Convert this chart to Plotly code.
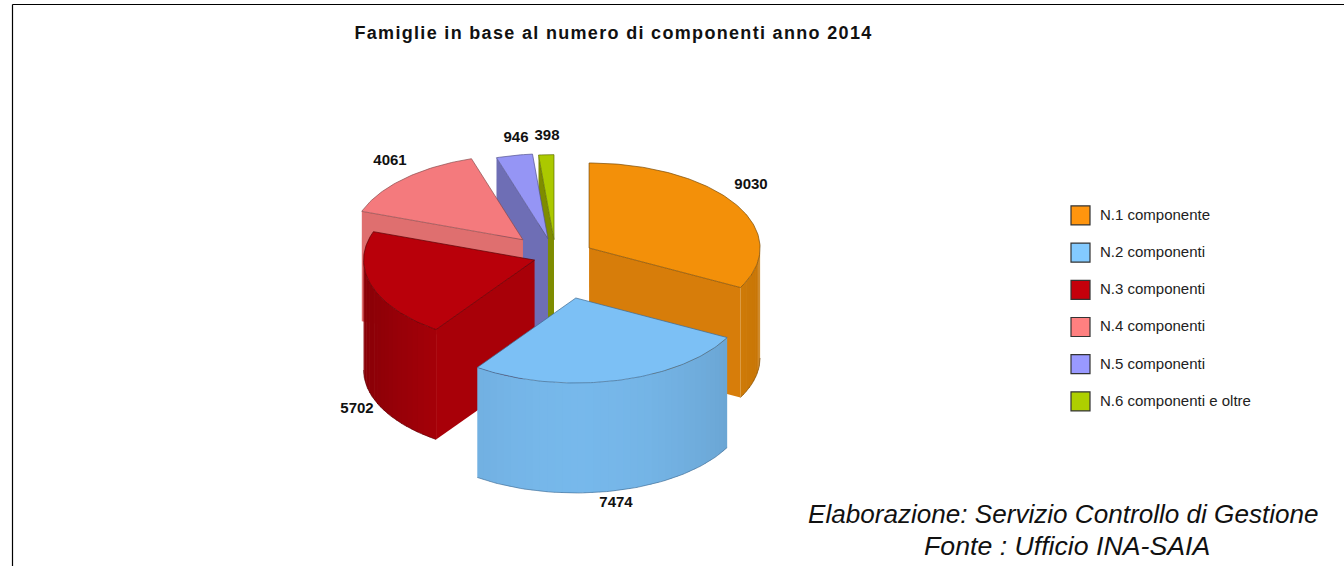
import math
import plotly.graph_objects as go

# ---- data ----
categories = ["N.1 componente", "N.2 componenti", "N.3 componenti",
              "N.4 componenti", "N.5 componenti", "N.6 componenti e oltre"]
values = [9030, 7474, 5702, 4061, 946, 398]
title_text = "Famiglie in base al numero di componenti anno 2014"
footer_lines = ["Elaborazione: Servizio Controllo di Gestione", "Fonte : Ufficio INA-SAIA"]

# ---- styling ----
pull_x = [0.2165, 0.46, 0.14, 0.29, 0.28, 0.44]
pull_y = [0.2165, 0.49, 0.10, 0.29, 0.225, 0.21]
wall_dark = [0.14, 0.12, 0.22, 0.2, 0.2, 0.2]
top_colors = ["#F39009", "#7CC0F5", "#B9000A", "#F47A7D", "#9595F5", "#ABC900"]
radial_colors = ["#D77D0A", "#72B0E4", "#A80008", "#DF6F6F", "#6E6EB5", "#7E8C00"]
swatch_colors = ["#FF950E", "#83CAFF", "#C5000B", "#FF8080", "#9999FF", "#AECF00"]
edge_colors = ["#7A4A05", "#3F6A90", "#5A0005", "#8A4A4C", "#55558F", "#5C6B00"]
CX, CY, RX, RY, DEPTH = 557.4, 257.5, 171, 85, 110
W, H = 1344, 566
FONT = "Liberation Sans"


def pt(ax, ay, deg):
    a = math.radians(deg)
    return ax + RX * math.sin(a), ay - RY * math.cos(a)


def shade(hexcol, f):
    r, g, b = (int(hexcol[i:i + 2], 16) for i in (1, 3, 5))
    return "#%02X%02X%02X" % (int(r * f), int(g * f), int(b * f))


def poly(xs, ys, fill, line=None, width=0.7):
    return go.Scatter(x=xs, y=ys, mode="lines", fill="toself", fillcolor=fill,
                      line=dict(color=line or fill, width=width),
                      hoverinfo="skip", showlegend=False)


total = sum(values)
slices = []
start = 0.0
for i, v in enumerate(values):
    end = start + v / total * 360
    mid = math.radians((start + end) / 2)
    ax = CX + pull_x[i] * RX * math.sin(mid)
    ay = CY - pull_y[i] * RY * math.cos(mid)
    slices.append((i, start, end, ax, ay))
    start = end

order = [5, 4, 3, 0, 2, 1]  # painter's order, back to front
fig = go.Figure()
for i in order:
    _, a0, a1, ax, ay = slices[i]
    # radial cut faces that look towards the viewer
    faces = []
    if math.sin(math.radians(a0)) < -1e-6:
        faces.append(a0)
    if math.sin(math.radians(a1)) > 1e-6:
        faces.append(a1)
    for a in faces:
        ox, oy = pt(ax, ay, a)
        fig.add_trace(poly([ax, ox, ox, ax, ax], [ay, oy, oy + DEPTH, ay + DEPTH, ay], radial_colors[i], width=0))
    # curved outer wall in finely shaded bands, each overlapping the next
    w0, w1 = max(a0, 90), min(a1, 270)
    if w1 > w0:
        n = max(2, int((w1 - w0) / 2.5))
        for k in range(n):
            b0 = w0 + (w1 - w0) * k / n
            b1 = min(w1, w0 + (w1 - w0) * (k + 1) / n + 0.6)
            s = math.sin(math.radians((b0 + b1) / 2))
            col = shade(top_colors[i], 0.96 - wall_dark[i] * s * s)
            angs = [b0 + (b1 - b0) * t / 3 for t in range(4)]
            up = [pt(ax, ay, a) for a in angs]
            xs = [p[0] for p in up] + [p[0] for p in reversed(up)] + [up[0][0]]
            ys = [p[1] for p in up] + [p[1] + DEPTH for p in reversed(up)] + [up[0][1]]
            fig.add_trace(poly(xs, ys, col, width=0))
        angs = [w0 + (w1 - w0) * t / 60 for t in range(61)]
        bottom = [pt(ax, ay, a) for a in angs]
        fig.add_trace(go.Scatter(x=[p[0] for p in bottom], y=[p[1] + DEPTH for p in bottom],
                                 mode="lines", line=dict(color=edge_colors[i], width=0.6),
                                 hoverinfo="skip", showlegend=False))
    # top face
    n = max(4, int(a1 - a0))
    arc = [pt(ax, ay, a0 + (a1 - a0) * t / n) for t in range(n + 1)]
    xs = [ax] + [p[0] for p in arc] + [ax]
    ys = [ay] + [p[1] for p in arc] + [ay]
    fig.add_trace(poly(xs, ys, top_colors[i], edge_colors[i], 0.7))

# value labels, placed just outside each slice
label_points = [(751, 185), (616, 503), (357, 409), (390, 161), (516, 138), (547, 136)]
fig.add_trace(go.Scatter(x=[p[0] for p in label_points], y=[p[1] for p in label_points],
                         mode="text", text=["<b>%d</b>" % v for v in values],
                         textposition="middle center",
                         textfont=dict(family=FONT, size=15, color="#111111"),
                         hoverinfo="skip", showlegend=False))

# legend
leg_y = [215.4 + 37.2 * k for k in range(6)]
fig.add_trace(go.Scatter(x=[1080.5] * 6, y=leg_y, mode="markers",
                         marker=dict(symbol="square", size=19, color=swatch_colors,
                                     line=dict(color="#333333", width=1.2)),
                         hoverinfo="skip", showlegend=False))
fig.add_trace(go.Scatter(x=[1100] * 6, y=[y + 0.6 for y in leg_y], mode="text", text=categories,
                         textposition="middle right",
                         textfont=dict(family=FONT, size=15, color="#222222"),
                         hoverinfo="skip", showlegend=False))

fig.update_layout(
    width=W, height=H, margin=dict(l=0, r=0, t=0, b=0),
    paper_bgcolor="white", plot_bgcolor="white", showlegend=False,
    xaxis=dict(range=[0, W], visible=False, fixedrange=True),
    yaxis=dict(range=[H, 0], visible=False, fixedrange=True),
    title=dict(text="<b>%s</b>" % title_text, x=613.5 / W, xanchor="center",
               y=1 - 33 / H, yanchor="middle",
               font=dict(family=FONT, size=18, color="#111111")),
    shapes=[
        dict(type="line", xref="paper", yref="paper", x0=12.5 / W, x1=1, y0=1 - 4.5 / H, y1=1 - 4.5 / H,
             line=dict(color="black", width=1.2)),
        dict(type="line", xref="paper", yref="paper", x0=12.5 / W, x1=12.5 / W, y0=1 - 4.5 / H, y1=0,
             line=dict(color="black", width=1.2)),
    ],
    annotations=[
        dict(text="<i>%s</i>" % footer_lines[0], x=1063, y=514, xref="x", yref="y", showarrow=False,
             font=dict(family=FONT, size=26.1, color="#111111")),
        dict(text="<i>%s</i>" % footer_lines[1], x=1067, y=546, xref="x", yref="y", showarrow=False,
             font=dict(family=FONT, size=26.7, color="#111111")),
    ],
)
page_css = ("document.body.style.margin='0';"
            "var s=document.createElement('style');"
            "s.textContent='.gtitle{letter-spacing:1.32px}';"
            "document.head.appendChild(s);")
fig.write_html("out.html", config=dict(displayModeBar=False), post_script=page_css)
